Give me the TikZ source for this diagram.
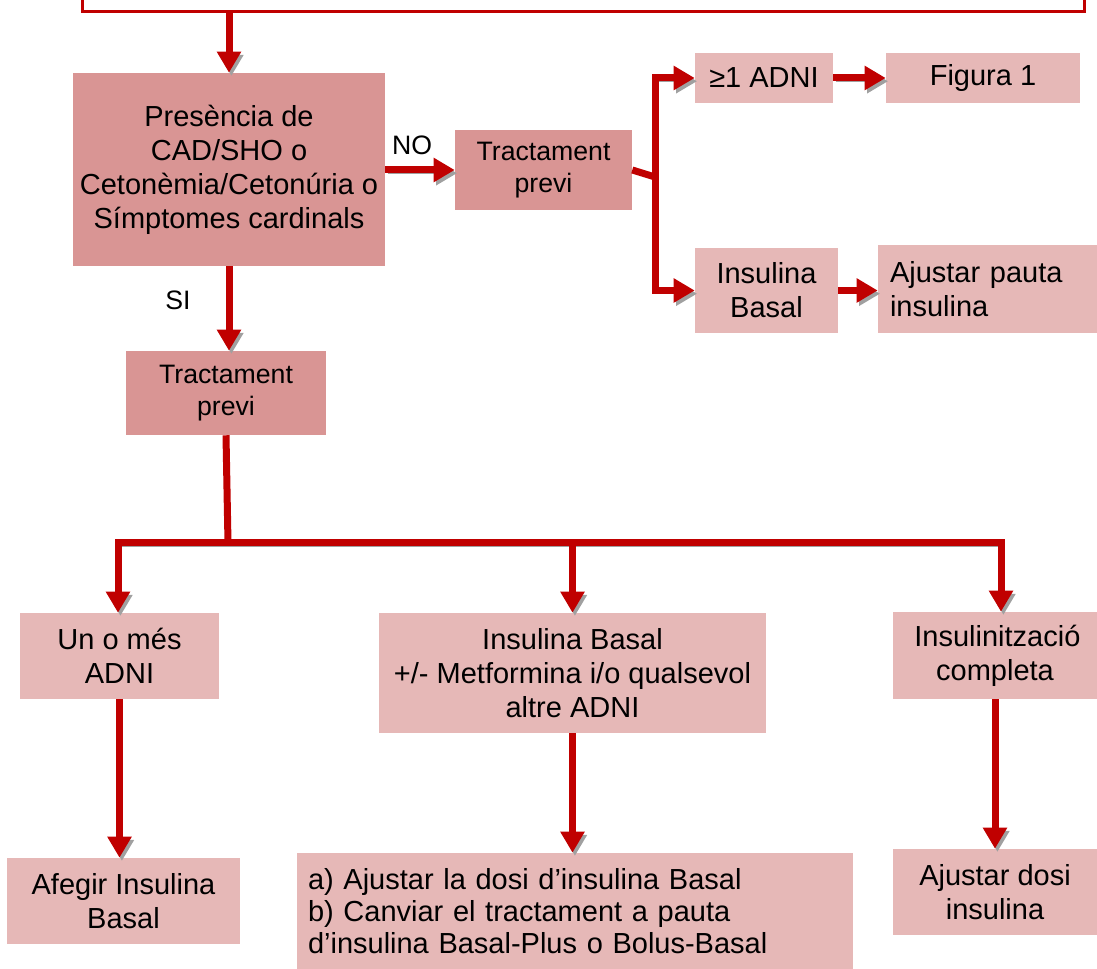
\documentclass[tikz,border=0pt]{standalone}
\usepackage{fontspec}
\setmainfont{Liberation Sans}
\usetikzlibrary{arrows.meta,calc}
\definecolor{darkpink}{RGB}{217,149,148}
\definecolor{lightpink}{RGB}{230,184,183}
\definecolor{arrowred}{RGB}{192,0,0}
\definecolor{shadowgray}{RGB}{160,160,160}
\newcommand\pxl[1]{#1*0.75pt}
\newcommand\fbig{\fontsize{21.75pt}{25.5pt}\selectfont}
\newcommand\fmid{\fontsize{20pt}{24.5pt}\selectfont}
\tikzset{
  bx/.style={rectangle, inner sep=0pt, align=center, font=\fbig},
  darkbox/.style={bx, fill=darkpink},
  lightbox/.style={bx, fill=lightpink},
  shad/.style={preaction={draw=shadowgray, transform canvas={shift={(1.8pt,-2.4pt)}}}},
  conn/.style={shad, draw=arrowred, line width=\pxl{7}, -{Triangle[width=\pxl{23},length=\pxl{21}]}},
  connline/.style={shad, draw=arrowred, line width=\pxl{7}},
  lbl/.style={font=\fontsize{20pt}{24pt}\selectfont, inner sep=0pt}
}
\begin{document}
\begin{tikzpicture}[x=0.75pt,y=-0.75pt]
\useasboundingbox (0,0) rectangle (1097,969);
\clip (0,0) rectangle (1097,969);
% top box
\node[draw=arrowred, line width=\pxl{3}, minimum width=\pxl{1002}, minimum height=\pxl{40}, inner sep=0pt] (top) at (583,-8) {};
% boxes
\node[darkbox, minimum width=\pxl{312}, minimum height=\pxl{193}] (main) at (229,169.5)
  {Presència de\\CAD/SHO o\\Cetonèmia/Cetonúria o\\Símptomes cardinals};
\node[darkbox, font=\fmid, minimum width=\pxl{177}, minimum height=\pxl{80}] (tpR) at (543.5,170) {Tractament\\previ};
\node[lightbox, minimum width=\pxl{138}, minimum height=\pxl{50}] (adni1) at (764,78) {≥1 ADNI};
\node[lightbox, minimum width=\pxl{194}, minimum height=\pxl{50}] (fig1) at (983,78) {Figura 1};
\node[lightbox, minimum width=\pxl{143}, minimum height=\pxl{85}] (insB) at (766.5,290.5) {Insulina\\Basal};
\node[lightbox, align=left, text width=\pxl{195}, inner xsep=\pxl{12}, minimum height=\pxl{88}] (ajP) at (987.5,289) {Ajustar pauta\\insulina};
\node[darkbox, font=\fmid, minimum width=\pxl{200}, minimum height=\pxl{84}] (tpL) at (226,393) {Tractament\\previ};
\node[lightbox, minimum width=\pxl{199}, minimum height=\pxl{86}] (un) at (119.5,656) {Un o més\\ADNI};
\node[lightbox, minimum width=\pxl{387}, minimum height=\pxl{120}] (ib) at (572.5,673) {Insulina Basal\\+/- Metformina i/o qualsevol\\altre ADNI};
\node[lightbox, minimum width=\pxl{204}, minimum height=\pxl{87}] (inc) at (995,655.5) {\,Insulinització\\completa};
\node[lightbox, minimum width=\pxl{233}, minimum height=\pxl{86}] (afe) at (123.5,901) {Afegir Insulina\\Basal};
\node[lightbox, align=left, font=\fontsize{21.75pt}{24pt}\selectfont, text width=\pxl{534}, inner xsep=\pxl{11}, minimum height=\pxl{116}] (ab) at (575,911)
  {a) Ajustar la dosi d’insulina Basal\\b) Canviar el tractament a pauta\\d’insulina Basal-Plus o Bolus-Basal};
\node[lightbox, minimum width=\pxl{204}, minimum height=\pxl{86}] (ajD) at (995,892) {Ajustar dosi\\insulina};
% labels
\node[lbl] (no) at (412,145) {NO};
\node[lbl] (si) at (178,300) {SI};
% connectors
\draw[conn] (top.south -| main.north) -- (main.north);
\draw[conn] (main.east |- tpR.west) -- (tpR.west);
\draw[conn] (main.south) -- (main.south |- tpL.north);
\coordinate (br) at (655,177);
\draw[connline] (tpR.east) -- (br);
\draw[conn] (br) |- (adni1.west);
\draw[conn] (br) |- (insB.west);
\draw[conn] (adni1.east) -- (fig1.west);
\draw[conn] (insB.east) -- (insB.east -| ajP.west);
\coordinate (hub) at (228,543);
\coordinate (hubL) at (118,543);
\coordinate (hubR) at (1001,543);
\draw[connline] (tpL.south) -- (hub);
\draw[conn] (hub) -- (hubL) -- (hubL |- un.north);
\draw[conn] (hub) -- (hubR) -- (hubR |- inc.north);
\draw[conn] (hub -| ib.north) -- (ib.north);
\draw[conn] (un.south) -- (un.south |- afe.north);
\draw[conn] (ib.south) -- (ib.south |- ab.north);
\draw[conn] (inc.south) -- (inc.south |- ajD.north);
\end{tikzpicture}
\end{document}
